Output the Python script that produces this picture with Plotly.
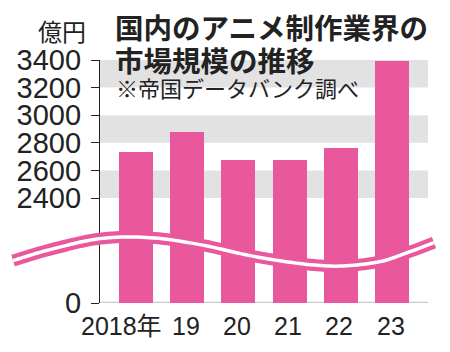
import plotly.graph_objects as go
import numpy as np

# ---- data ----
years = ["2018", "2019", "2020", "2021", "2022", "2023"]
year_labels = ["2018年", "19", "20", "21", "22", "23"]
market_size = [2733, 2877, 2676, 2676, 2760, 3395]  # 億円
y_tick_vals = [2400, 2600, 2800, 3000, 3200, 3400]
y_tick_text = ["2400", "2600", "2800", "3000", "3200", "3400"]
break_base = 1640          # axis value where "0" is drawn (broken axis)
bands = [(2400, 2600), (2800, 3000), (3200, 3400)]

PINK = "#e9579c"
GRAY = "#e2e2e2"
INK = "#222222"

W, H = 450, 352
L, R, T, B = 100, 22, 60, 48.5
PW, PH = W - L - R, H - T - B


def px2paper(px, py):
    return (px - L) / PW, (H - B - py) / PH


fig = go.Figure()
fig.add_trace(go.Bar(
    x=list(range(len(years))), y=market_size,
    marker=dict(color=PINK, line=dict(width=0)),
    width=0.667, hoverinfo="skip",
))

shapes = []
for lo, hi in bands:
    shapes.append(dict(type="rect", xref="paper", yref="y", x0=0, x1=1, y0=lo, y1=hi,
                       fillcolor=GRAY, line=dict(width=0), layer="below"))
shapes.append(dict(type="line", xref="paper", yref="y", x0=0, x1=1, y0=break_base, y1=break_base,
                   line=dict(color="#cccccc", width=2.5), layer="below"))

# wave (axis break symbol) — decorative centreline in pixels
wave_px = [(13, 261), (50, 250), (100, 239), (150, 238), (200, 245), (250, 256),
           (300, 264), (340, 266.5), (380, 262), (410, 252), (434, 243)]
pts = np.array(wave_px, dtype=float)
ext = np.vstack([2 * pts[0] - pts[1], pts, 2 * pts[-1] - pts[-2]])
curve = []
for i in range(1, len(ext) - 2):
    p0, p1, p2, p3 = ext[i - 1], ext[i], ext[i + 1], ext[i + 2]
    for t in np.linspace(0, 1, 12, endpoint=False):
        t2, t3 = t * t, t * t * t
        c = 0.5 * ((2 * p1) + (-p0 + p2) * t + (2 * p0 - 5 * p1 + 4 * p2 - p3) * t2 +
                   (-p0 + 3 * p1 - 3 * p2 + p3) * t3)
        curve.append(c)
curve.append(pts[-1])
path = ""
for i, (cx, cy) in enumerate(curve):
    xp, yp = px2paper(cx, cy)
    path += ("M" if i == 0 else "L") + f"{xp:.5f},{yp:.5f} "
shapes.append(dict(type="path", xref="paper", yref="paper", path=path,
                   line=dict(color=PINK, width=12), layer="above"))
shapes.append(dict(type="path", xref="paper", yref="paper", path=path,
                   line=dict(color="white", width=3.5), layer="above"))

annotations = []
tx, ty = px2paper(113, 26)
annotations.append(dict(text="<b>国内のアニメ制作業界の</b>", x=tx, y=ty, xref="paper", yref="paper",
                        xanchor="left", yanchor="middle", showarrow=False,
                        font=dict(family="Noto Sans CJK JP", size=28.5, color=INK)))
tx, ty = px2paper(113, 59)
annotations.append(dict(text="<b>市場規模の推移</b>", x=tx, y=ty, xref="paper", yref="paper",
                        xanchor="left", yanchor="middle", showarrow=False,
                        font=dict(family="Noto Sans CJK JP", size=28.5, color=INK)))
tx, ty = px2paper(114, 87)
annotations.append(dict(text="※帝国データバンク調べ", x=tx, y=ty, xref="paper", yref="paper",
                        xanchor="left", yanchor="middle", showarrow=False,
                        font=dict(family="Noto Sans CJK JP", size=22, color=INK)))
tx, ty = px2paper(88, 30)
annotations.append(dict(text="億円", x=tx, y=ty, xref="paper", yref="paper",
                        xanchor="right", yanchor="middle", showarrow=False,
                        font=dict(family="Noto Sans CJK JP", size=24, color=INK)))
_, ly = px2paper(0, 327)
for i, lab in enumerate(year_labels):
    annotations.append(dict(text=lab, x=i, y=ly, xref="x", yref="paper",
                            xshift=-14 if i == 0 else -1.5,
                            xanchor="center", yanchor="middle", showarrow=False,
                            font=dict(family="Liberation Sans, Noto Sans CJK JP", size=25, color=INK)))

fig.update_layout(
    width=W, height=H, margin=dict(l=L, r=R, t=T, b=B, pad=0),
    paper_bgcolor="white", plot_bgcolor="white", showlegend=False,
    shapes=shapes, annotations=annotations, bargap=0,
    xaxis=dict(range=[-0.7, 5.7], showticklabels=False, showgrid=False, zeroline=False,
               showline=False, ticks=""),
    yaxis=dict(range=[break_base, 3400], tickvals=[break_base] + y_tick_vals,
               ticktext=["0"] + y_tick_text, showgrid=False, zeroline=False,
               showline=True, linecolor=INK, linewidth=1.3,
               ticks="outside", ticklen=8, tickwidth=1.3, tickcolor=INK,
               ticklabelstandoff=4,
               tickfont=dict(family="Liberation Sans", size=29, color=INK)),
)
fig.write_html("out.html")
